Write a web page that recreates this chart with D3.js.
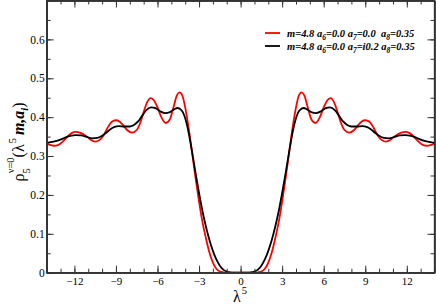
<!DOCTYPE html>
<html><head><meta charset="utf-8">
<script src="https://cdn.jsdelivr.net/npm/d3@7"></script>
<style>body{margin:0;background:#fff}svg{display:block}svg text{font-family:"Liberation Serif","Times New Roman","DejaVu Serif",serif !important}</style>
</head><body><div id="chart"></div>
<script>
// ---- data ----
const redX = [-14,-13.7,-13.45,-13.2,-12.9,-12.6,-12.2,-11.9,-11.6,-11.1,-10.8,-10.5,-10.2,-9.9,-9.6,-9.3,-9.0,-8.75,-8.5,-8.2,-7.85,-7.5,-7.25,-7.0,-6.75,-6.5,-6.25,-6.0,-5.7,-5.4,-5.1,-4.85,-4.6,-4.4,-4.2,-4.0,-3.75,-3.5,-3.25,-3.0,-2.75,-2.5,-2.25,-2.0,-1.75,-1.5,-1.25,-1.0,-0.5,0,
  0.5,1.0,1.25,1.5,1.75,2.0,2.25,2.5,2.75,3.0,3.25,3.5,3.75,4.0,4.2,4.4,4.6,4.85,5.1,5.4,5.7,6.0,6.25,6.5,6.75,7.0,7.25,7.5,7.85,8.2,8.5,8.75,9.0,9.3,9.6,9.9,10.2,10.5,10.8,11.1,11.6,11.9,12.2,12.6,12.9,13.2,13.45,13.7,14];
const redY = [0.332,0.328,0.3265,0.328,0.335,0.346,0.359,0.362,0.360,0.350,0.341,0.337,0.341,0.353,0.373,0.388,0.392,0.389,0.380,0.367,0.360,0.367,0.385,0.413,0.438,0.449,0.443,0.425,0.398,0.385,0.395,0.425,0.456,0.4637,0.455,0.425,0.372,0.308,0.243,0.183,0.130,0.088,0.052,0.026,0.010,0.003,0.001,0.0003,0,0,
  0,0.0003,0.001,0.003,0.010,0.026,0.052,0.088,0.130,0.183,0.243,0.308,0.372,0.425,0.455,0.4637,0.456,0.425,0.395,0.385,0.398,0.425,0.443,0.449,0.438,0.413,0.385,0.367,0.360,0.367,0.380,0.389,0.392,0.388,0.373,0.353,0.341,0.337,0.341,0.350,0.360,0.362,0.359,0.346,0.335,0.328,0.3265,0.328,0.332];
const blackX = [-14,-13.5,-13.1,-12.7,-12.3,-11.9,-11.5,-11.1,-10.7,-10.35,-10.0,-9.7,-9.4,-9.1,-8.8,-8.4,-8.0,-7.7,-7.4,-7.1,-6.8,-6.45,-6.15,-5.8,-5.45,-5.1,-4.8,-4.55,-4.25,-4.0,-3.75,-3.5,-3.25,-3.0,-2.75,-2.5,-2.25,-2.0,-1.75,-1.5,-1.25,-1.0,-0.75,-0.5,0,
  0.5,0.75,1.0,1.25,1.5,1.75,2.0,2.25,2.5,2.75,3.0,3.25,3.5,3.75,4.0,4.25,4.55,4.8,5.1,5.45,5.8,6.15,6.45,6.8,7.1,7.4,7.7,8.0,8.4,8.8,9.1,9.4,9.7,10.0,10.35,10.7,11.1,11.5,11.9,12.3,12.7,13.1,13.5,14];
const blackY = [0.334,0.337,0.341,0.347,0.352,0.354,0.353,0.349,0.3455,0.3465,0.352,0.360,0.369,0.375,0.377,0.376,0.376,0.380,0.389,0.404,0.418,0.425,0.423,0.415,0.4105,0.413,0.420,0.4235,0.417,0.397,0.360,0.310,0.256,0.205,0.158,0.118,0.084,0.056,0.034,0.018,0.008,0.003,0.0008,0.0002,0,
  0.0002,0.0008,0.003,0.008,0.018,0.034,0.056,0.084,0.118,0.158,0.205,0.256,0.310,0.360,0.397,0.417,0.4235,0.420,0.413,0.4105,0.415,0.423,0.425,0.418,0.404,0.389,0.380,0.376,0.376,0.377,0.375,0.369,0.360,0.352,0.3465,0.3455,0.349,0.353,0.354,0.352,0.347,0.341,0.337,0.334];
const xTickValues = [-12,-9,-6,-3,0,3,6,9,12];
const yTickValues = [0,0.1,0.2,0.3,0.4,0.5,0.6];
const seriesColors = ["#ff0000","#000000"];

const W = 436, H = 307;
const svg = d3.select("#chart").append("svg").attr("width", W).attr("height", H);
const x = d3.scaleLinear().domain([-14, 14]).range([46.7, 434.5]);
const y = d3.scaleLinear().domain([0, 0.7]).range([272.7, 0.5]);
const serif = "Liberation Serif, Times New Roman, serif";
const axisCol = "#333";

// curves
const line = d3.line().x(d => x(d[0])).y(d => y(d[1])).curve(d3.curveMonotoneX);
const redData = redX.map((v, i) => [v, redY[i]]);
const blackData = blackX.map((v, i) => [v, blackY[i]]);
svg.append("clipPath").attr("id", "c").append("rect")
  .attr("x", x(-14)).attr("y", y(0.7)).attr("width", x(14) - x(-14)).attr("height", y(0) - y(0.7));
const g = svg.append("g").attr("clip-path", "url(#c)");
g.append("path").datum(redData).attr("d", line).attr("fill", "none").attr("stroke", seriesColors[0]).attr("stroke-width", 1.8);
g.append("path").datum(blackData).attr("d", line).attr("fill", "none").attr("stroke", seriesColors[1]).attr("stroke-width", 1.8);

// axes (ticks pointing inward on all four sides)
const xMinor = d3.range(-14, 14.01, 1);
const yMinor = d3.range(0, 0.701, 0.05);
function styleAxis(sel) {
  sel.attr("font-family", serif);
  sel.selectAll("path").attr("stroke", axisCol).attr("stroke-width", 1.3);
  sel.selectAll("line").attr("stroke", axisCol).attr("stroke-width", 1);
  sel.selectAll("text").attr("font-size", 11).attr("fill", "#000");
}
svg.append("g").attr("transform", `translate(0,${y(0)})`)
  .call(d3.axisTop(x).tickValues(xMinor).tickSize(4).tickFormat("").tickSizeOuter(0)).call(styleAxis);
svg.append("g").attr("transform", `translate(0,${y(0.7)})`)
  .call(d3.axisBottom(x).tickValues(xMinor).tickSize(4).tickFormat("").tickSizeOuter(0)).call(styleAxis);
svg.append("g").attr("transform", `translate(${x(-14)},0)`)
  .call(d3.axisRight(y).tickValues(yMinor).tickSize(4).tickFormat("").tickSizeOuter(0)).call(styleAxis);
svg.append("g").attr("transform", `translate(${x(14)},0)`)
  .call(d3.axisLeft(y).tickValues(yMinor).tickSize(4).tickFormat("").tickSizeOuter(0)).call(styleAxis);
const xb = svg.append("g").attr("transform", `translate(0,${y(0)})`)
  .call(d3.axisBottom(x).tickValues(xTickValues).tickSize(-7).tickPadding(5).tickSizeOuter(0).tickFormat(d3.format("d")));
xb.call(styleAxis); xb.selectAll("text").attr("font-size", 11);
svg.append("g").attr("transform", `translate(0,${y(0.7)})`)
  .call(d3.axisTop(x).tickValues(xTickValues).tickSize(-7).tickFormat("").tickSizeOuter(0)).call(styleAxis);
const yl = svg.append("g").attr("transform", `translate(${x(-14)},0)`)
  .call(d3.axisLeft(y).tickValues(yTickValues).tickSize(-7).tickPadding(2).tickSizeOuter(0)
    .tickFormat(d => d === 0 ? "0" : d3.format(".1f")(d)));
yl.call(styleAxis); yl.selectAll("text").attr("font-size", 11.5);
svg.append("g").attr("transform", `translate(${x(14)},0)`)
  .call(d3.axisRight(y).tickValues(yTickValues).tickSize(-7).tickFormat("").tickSizeOuter(0)).call(styleAxis);
svg.append("rect").attr("x", x(-14)).attr("y", y(0.7)).attr("width", x(14) - x(-14)).attr("height", y(0) - y(0.7))
  .attr("fill", "none").attr("stroke", axisCol).attr("stroke-width", 1.3);

// x title
const xt = svg.append("text").attr("x", 233).attr("y", 302).attr("font-family", serif).attr("font-size", 16);
xt.append("tspan").text("λ");
xt.append("tspan").attr("font-size", 10.5).attr("dy", -8).attr("dx", 1).text("5");

// y title
const yt = svg.append("text").attr("transform", "translate(24,142) rotate(-90)")
  .attr("text-anchor", "middle").attr("font-family", serif).attr("font-size", 16);
yt.append("tspan").text("ρ");
yt.append("tspan").attr("font-size", 10.5).attr("dy", 6).text("5");
yt.append("tspan").attr("font-size", 10.5).attr("dy", -16).attr("dx", -5).text("ν=0");
yt.append("tspan").attr("dy", 10).text("(λ");
yt.append("tspan").attr("font-size", 10.5).attr("dy", -8).attr("dx", 1).text("5");
yt.append("tspan").attr("dy", 8).attr("dx", 3).attr("font-weight", "bold").attr("font-style", "italic").text("m,a");
yt.append("tspan").attr("font-size", 10.5).attr("dy", 4).attr("font-weight", "bold").attr("font-style", "italic").text("i");
yt.append("tspan").attr("dy", -4).text(")");

// legend
const legendRows = [
  {color: seriesColors[0], parts: [["m=4.8 a",0],["6",1],["=0.0 a",0],["7",1],["=0.0  a",0],["8",1],["=0.35",0]]},
  {color: seriesColors[1], parts: [["m=4.8 a",0],["6",1],["=0.0 a",0],["7",1],["=i0.2 a",0],["8",1],["=0.35",0]]}
];
legendRows.forEach((r, i) => {
  const yy = 33 + i * 13;
  svg.append("line").attr("x1", 265).attr("x2", 280).attr("y1", yy).attr("y2", yy)
    .attr("stroke", r.color).attr("stroke-width", 1.8);
  const t = svg.append("text").attr("x", 287).attr("y", yy + 3.5).attr("font-family", serif)
    .attr("font-size", 10.5).attr("font-weight", "bold").attr("font-style", "italic")
    .style("white-space", "pre");
  let sub = 0;
  r.parts.forEach(([s, isSub]) => {
    const ts = t.append("tspan").text(s);
    if (isSub && !sub) { ts.attr("dy", 3).attr("font-size", 7.5); sub = 1; }
    else if (!isSub && sub) { ts.attr("dy", -3); sub = 0; }
  });
});
</script></body></html>
